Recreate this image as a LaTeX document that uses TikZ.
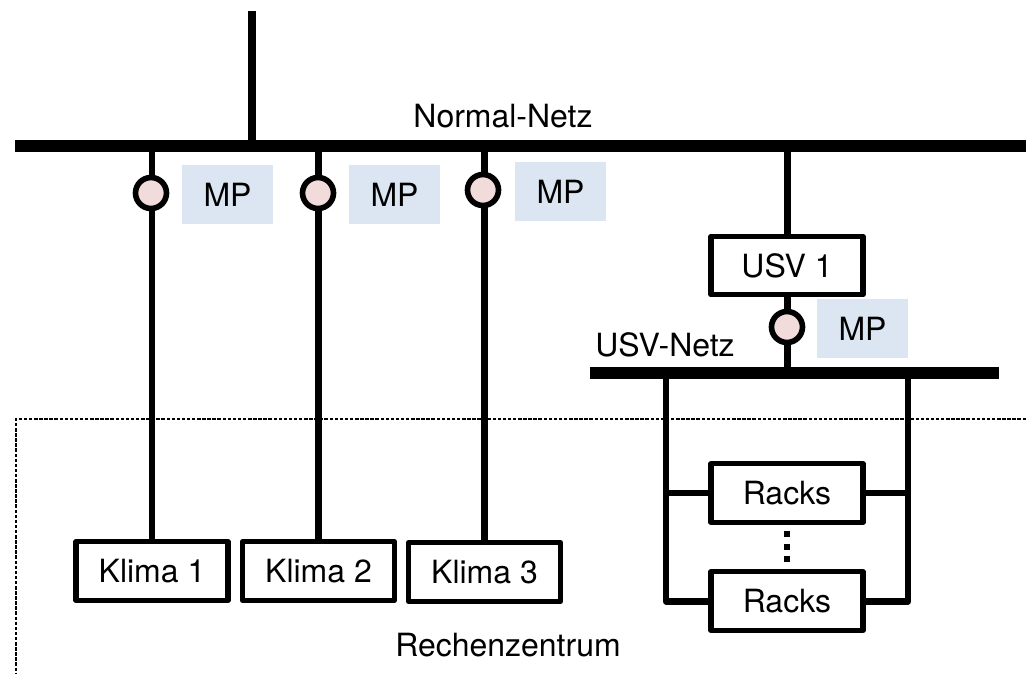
\documentclass[tikz,border=0pt]{standalone}
\usepackage{fontspec}
\setmainfont{TeX Gyre Heros}
\usepackage{xcolor}
\definecolor{mppink}{RGB}{242,220,219}
\definecolor{mpblue}{RGB}{220,230,242}
\usetikzlibrary{positioning}
\tikzset{
  anlage/.style={draw,line width=3pt,line join=round,fill=white,inner sep=0pt,minimum width=3.04cm,minimum height=1.17cm},
  schiene/.style={fill=black,inner sep=0pt,outer sep=0pt,minimum height=0.24cm},
  messkreis/.style={circle,draw,line width=3.2pt,fill=mppink,inner sep=0pt,minimum size=0.62cm},
  messtext/.style={fill=mpblue,inner sep=0pt,minimum width=1.82cm,minimum height=1.18cm},
  leitung/.style={line width=3.6pt,line join=round},
  beschriftung/.style={inner sep=0pt}
}
\begin{document}
\begin{tikzpicture}[x=0.02cm,y=-0.02cm,font=\fontsize{18.2pt}{22pt}\selectfont]
\useasboundingbox (0,0) rectangle (1026,673);
% Rechenzentrum
\draw[line width=0.6pt,dash pattern=on 2pt off 0.9pt] (1026,419) -- (16,419) -- (16,673);
\node[beschriftung] (rz) at (508,645) {Rechenzentrum};
% Netze
\node[schiene,minimum width=20.22cm] (netz) at (520.5,146) {};
\node[schiene,minimum width=8.18cm] (usvnetz) at (794.5,373) {};
\node[beschriftung] (netzlabel) at (503,116) {Normal-Netz};
\node[beschriftung] (usvlabel) at (665,345) {USV-Netz};
\coordinate (einspeisung) at (252,11);
\draw[line width=4pt] (einspeisung) -- (einspeisung |- netz.north);
% Klima
\foreach \i/\x/\y in {1/152/571,2/318.5/571,3/484.5/572}{
  \node[anlage] (kl\i) at (\x,\y) {Klima \i};
  \draw[leitung] (kl\i.north |- netz.south) -- (kl\i.north);
}
% USV und Racks
\node[anlage] (usv) at (787,265.5) {USV 1};
\node[anlage] (rk1) at (787,493) {Racks};
\node[anlage] (rk2) at (787,601) {Racks};
\draw[line width=4pt] (usv.north |- netz.south) -- (usv.north);
\draw[line width=4pt] (usv.south) -- (usv.south |- usvnetz.north);
\coordinate (railL) at (666,601.5);
\coordinate (railR) at (908,601.5);
\draw[leitung] (railL |- usvnetz.south) -- (railL) -- (rk2.west |- railL);
\draw[leitung] (railR |- usvnetz.south) -- (railR) -- (rk2.east |- railR);
\draw[leitung] (railL |- rk1.west) -- (rk1.west);
\draw[leitung] (railR |- rk1.east) -- (rk1.east);
\draw[line width=3.8pt,dash pattern=on 3.5pt off 3.6pt,dash phase=3.5pt] (rk1.south) -- (rk2.north);
% Messpunkte
\foreach \i/\x/\y/\tx/\ty in {1/151/193/227.5/194.5,2/318/193/394.5/194.5,3/483/190/560.5/191.5,4/787/327/862.5/328.5}{
  \node[messkreis] (mk\i) at (\x,\y) {};
  \node[messtext] (mp\i) at (\tx,\ty) {MP};
}
\end{tikzpicture}
\end{document}
